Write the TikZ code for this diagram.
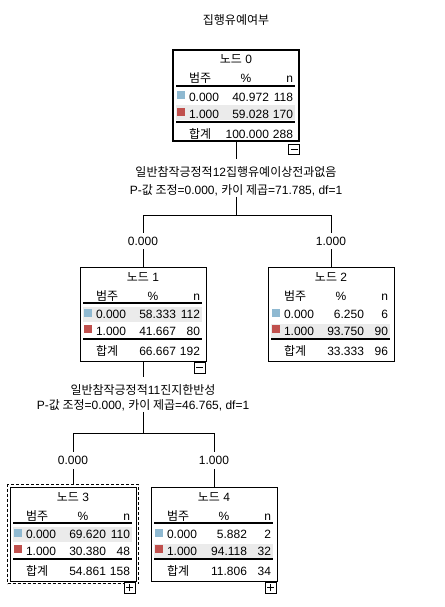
\documentclass[tikz,border=0pt]{standalone}
\usepackage{fontspec}
\setmainfont{Liberation Sans}
\newfontfamily\kr{Noto Sans CJK KR}
\usetikzlibrary{fit}
\definecolor{catblue}{HTML}{8FB9D1}
\definecolor{catred}{HTML}{C0504D}
\definecolor{rowshade}{HTML}{EBEBEB}
\tikzset{
  every node/.style={font=\fontsize{12}{14}\selectfont, inner sep=0pt, outer sep=0pt},
  tbox/.style={draw, line width=0.9pt, minimum width=126pt, anchor=north west, fill=white},
  rootbox/.style={tbox, line width=2.8pt},
  rulel/.style={line width=1.2pt},
  conn/.style={line width=0.9pt},
  btn/.style={draw, line width=0.9pt, fill=white, minimum width=11pt, minimum height=10.5pt, anchor=north east},
  selbox/.style={draw, line width=0.8pt, dash pattern=on 3pt off 2pt},
  elabel/.style={anchor=base},
}
% #1 name, #2 L, #3 T, #4 H, #5 number, #6 shade offset, #7 header rule, #8 box style
\newcommand\tnode[8]{%
  \def\curN{#1}\def\curL{#2}\def\curT{#3}%
  \node[#8, minimum height=#4pt] (#1) at (#2,#3) {};
  \fill[rowshade] ({#2+3},{#3+#6}) rectangle ({#2+122},{#3+#6+15});
  \node[anchor=base] (#1t) at ({#2+63},{#3+14}) {{\kr 노드} #5};
  \node[anchor=base west] (#1h1) at ({#2+16},{#3+33}) {\kr 범주};
  \node[anchor=base] (#1h2) at ({#2+73},{#3+33}) {\%};
  \node[anchor=base east] (#1h3) at ({#2+120},{#3+33}) {n};
  \ifnum#7=1 \draw[rulel] ({#2+3},{#3+36}) -- ({#2+122},{#3+36});\fi
  \fill[catblue] ({#2+4},{#3+41.5}) rectangle ++(8,8);
  \fill[catred] ({#2+4},{#3+58}) rectangle ++(8,8);
  \node[anchor=base west] (#1k1) at ({#2+16},{#3+51.8}) {0.000};
  \node[anchor=base west] (#1k2) at ({#2+16},{#3+68.3}) {1.000};
  \draw[rulel] ({#2+3},{#3+72}) -- ({#2+122},{#3+72});
  \node[anchor=base west] (#1k3) at ({#2+16},{#3+88}) {\kr 합계};
}
\newcommand\tvals[6]{%
  \node[anchor=base east] (\curN p1) at ({\curL+96},{\curT+51.8}) {#1};
  \node[anchor=base east] (\curN c1) at ({\curL+120},{\curT+51.8}) {#2};
  \node[anchor=base east] (\curN p2) at ({\curL+96},{\curT+68.3}) {#3};
  \node[anchor=base east] (\curN c2) at ({\curL+120},{\curT+68.3}) {#4};
  \node[anchor=base east] (\curN p3) at ({\curL+96},{\curT+88}) {#5};
  \node[anchor=base east] (\curN c3) at ({\curL+120},{\curT+88}) {#6};
}
\newcommand\minusbtn[2]{%
  \node[btn] (#1) at #2 {};
  \draw[line width=0.9pt] ([xshift=-3.5pt]#1.center) -- ([xshift=3.5pt]#1.center);
}
\newcommand\plusbtn[2]{%
  \node[btn] (#1) at #2 {};
  \draw[line width=0.9pt] ([xshift=-3.5pt]#1.center) -- ([xshift=3.5pt]#1.center);
  \draw[line width=0.9pt] ([yshift=-3.5pt]#1.center) -- ([yshift=3.5pt]#1.center);
}
\begin{document}
\begin{tikzpicture}[x=1pt,y=-1pt]
\useasboundingbox (0,0) rectangle (444,607);
\fill[white] (0,0) rectangle (444,607);

\node[anchor=base] (title) at (236,25) {\kr 집행유예여부};

% node 0
\tnode{n0}{173}{50}{91}{0}{55.5}{1}{rootbox}
\tvals{40.972}{118}{59.028}{170}{100.000}{288}
\minusbtn{n0b}{(299.5,144)}

% split 0
\node[elabel] (s0a) at (236,176.3) {{\kr 일반참작긍정적}12{\kr 집행유예이상전과없음}};
\node[elabel] (s0b) at (236,194.3) {P-{\kr 값 조정}=0.000, {\kr 카이 제곱}=71.785, df=1};
\coordinate (b0) at (236,215);
\coordinate (b0l) at (143,215);
\coordinate (b0r) at (331,215);
\node[elabel] (e1) at (143,245.3) {0.000};
\node[elabel] (e2) at (331,245.3) {1.000};

% node 1 and 2
\tnode{n1}{80}{267}{94}{1}{40}{1}{tbox}
\tvals{58.333}{112}{41.667}{80}{66.667}{192}
\minusbtn{n1b}{(205,362.5)}

\tnode{n2}{268}{267}{94}{2}{56.5}{0}{tbox}
\tvals{6.250}{6}{93.750}{90}{33.333}{96}

% split 1
\node[elabel] (s1a) at (143,394.3) {{\kr 일반참작긍정적}11{\kr 진지한반성}};
\node[elabel] (s1b) at (143,409.3) {P-{\kr 값 조정}=0.000, {\kr 카이 제곱}=46.765, df=1};
\coordinate (b1) at (143,433);
\coordinate (b1l) at (73,433);
\coordinate (b1r) at (214,433);
\node[elabel] (e3) at (73,464.8) {0.000};
\node[elabel] (e4) at (214,464.8) {1.000};

% node 3 and 4
\tnode{n3}{10}{487}{94}{3}{40}{1}{tbox}
\tvals{69.620}{110}{30.380}{48}{54.861}{158}
\node[selbox, fit=(n3), inner sep=2.5pt] (n3sel) {};
\plusbtn{n3b}{(135,582.5)}

\tnode{n4}{151}{487}{94}{4}{56.5}{1}{tbox}
\tvals{5.882}{2}{94.118}{32}{11.806}{34}
\plusbtn{n4b}{(276,582.5)}

% connectors
\draw[conn, shorten >=7pt] (n0.south) -- (s0a.north);
\draw[conn, shorten <=1pt] (s0b.south) -- (b0);
\draw[conn] (b0l) -- (b0r);
\draw[conn, shorten >=4pt] (b0l) -- (e1.north);
\draw[conn, shorten >=4pt] (b0r) -- (e2.north);
\draw[conn, shorten <=4pt] (e1.south) -- (n1.north);
\draw[conn, shorten <=4pt] (e2.south) -- (n2.north);

\draw[conn, shorten >=7pt] (n1.south) -- (s1a.north);
\draw[conn, shorten <=1pt] (s1b.south) -- (b1);
\draw[conn] (b1l) -- (b1r);
\draw[conn, shorten >=4pt] (b1l) -- (e3.north);
\draw[conn, shorten >=4pt] (b1r) -- (e4.north);
\draw[conn, shorten <=4pt] (e3.south) -- (n3sel.north);
\draw[conn, shorten <=4pt] (e4.south) -- (n4.north);
\end{tikzpicture}
\end{document}
